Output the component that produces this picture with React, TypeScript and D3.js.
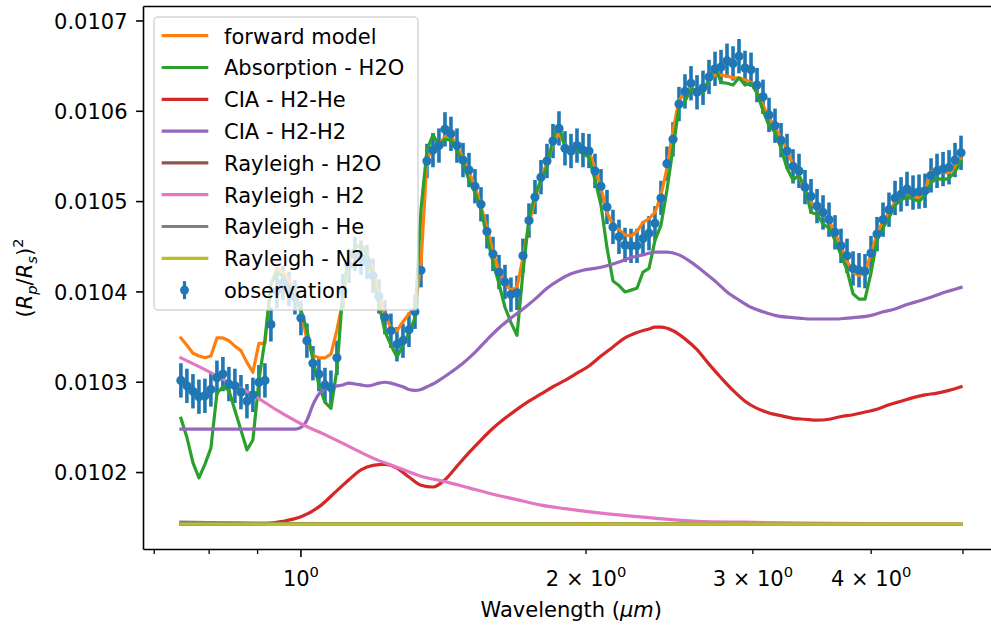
import React from "react";
import * as d3 from "d3";

// wavelength grid of the observed spectrum (micron)
const WAVELENGTH = [
  0.7469, 0.7579, 0.7691, 0.7804, 0.7918, 0.8034, 0.8153, 0.8272, 0.8394, 0.8517,
  0.8643, 0.877, 0.8898, 0.9029, 0.9162, 0.9296, 0.9433, 0.9572, 0.9712, 0.9855,
  1.0, 1.0147, 1.0296, 1.0447, 1.0601, 1.0757, 1.0915, 1.1075, 1.1238, 1.1403,
  1.1571, 1.1741, 1.1914, 1.2089, 1.2266, 1.2446, 1.2629, 1.2815, 1.3003, 1.3194,
  1.3388, 1.3585, 1.3785, 1.3987, 1.4193, 1.4401, 1.4613, 1.4828, 1.5046, 1.5267,
  1.5491, 1.5719, 1.595, 1.6184, 1.6422, 1.6663, 1.6908, 1.7157, 1.7409, 1.7665,
  1.7924, 1.8188, 1.8455, 1.8726, 1.9001, 1.9281, 1.9564, 1.9852, 2.0143, 2.0439,
  2.0739, 2.1044, 2.1353, 2.1667, 2.1986, 2.2309, 2.2637, 2.2969, 2.3307, 2.3649,
  2.3997, 2.4349, 2.4707, 2.507, 2.5438, 2.5812, 2.6192, 2.6577, 2.6967, 2.7364,
  2.7766, 2.8174, 2.8588, 2.9008, 2.9434, 2.9867, 3.0306, 3.0751, 3.1203, 3.1661,
  3.2127, 3.2599, 3.3078, 3.3564, 3.4057, 3.4557, 3.5065, 3.558, 3.6103, 3.6634,
  3.7172, 3.7718, 3.8272, 3.8835, 3.9405, 3.9984, 4.0572, 4.1168, 4.1773, 4.2387,
  4.301, 4.3642, 4.4283, 4.4934, 4.5594, 4.6264, 4.6944, 4.7634, 4.8334, 4.9044,
  4.9765,
];

// transit depth values in ppm of (Rp/Rs)^2
const OBSERVATION = [
  10302, 10296, 10290, 10284, 10285, 10292, 10305, 10309, 10298, 10296,
  10289, 10279, 10286, 10300, 10302, 10364, 10401, 10410, 10403, 10394,
  10371, 10346, 10321, 10309, 10297, 10294, 10327, 10401, 10429, 10442,
  10438, 10433, 10418, 10395, 10372, 10357, 10342, 10346, 10358, 10378,
  10424, 10545, 10557, 10562, 10580, 10575, 10562, 10546, 10535, 10517,
  10497, 10467, 10442, 10422, 10411, 10397, 10399, 10440, 10479, 10505,
  10527, 10545, 10567, 10581, 10559, 10556, 10562, 10557, 10556, 10534,
  10517, 10494, 10472, 10461, 10452, 10451, 10451, 10459, 10465, 10476,
  10504, 10542, 10569, 10608, 10622, 10631, 10621, 10626, 10638, 10647,
  10649, 10656, 10653, 10661, 10648, 10646, 10629, 10616, 10596, 10584,
  10568, 10556, 10539, 10534, 10516, 10506, 10495, 10488, 10480, 10466,
  10451, 10440, 10426, 10424, 10423, 10443, 10464, 10480, 10491, 10504,
  10508, 10514, 10510, 10511, 10512, 10529, 10534, 10536, 10538, 10546,
  10554,
];
const OBSERVATION_ERROR = 19;

const FORWARD_MODEL = [
  10349, 10341, 10332, 10329, 10327, 10329, 10349, 10349, 10346, 10340,
  10335, 10322, 10311, 10343, 10343, 10408, 10426, 10422, 10413, 10397,
  10378, 10347, 10330, 10327, 10327, 10331, 10358, 10391, 10433, 10449,
  10452, 10443, 10424, 10397, 10374, 10360, 10357, 10367, 10376, 10382,
  10430, 10548, 10557, 10563, 10572, 10573, 10562, 10548, 10533, 10517,
  10495, 10471, 10444, 10424, 10409, 10402, 10405, 10438, 10475, 10503,
  10524, 10544, 10563, 10576, 10563, 10557, 10559, 10559, 10556, 10537,
  10515, 10488, 10474, 10469, 10463, 10462, 10467, 10477, 10481, 10488,
  10507, 10537, 10579, 10612, 10621, 10627, 10621, 10621, 10635, 10640,
  10640, 10639, 10637, 10637, 10635, 10632, 10621, 10607, 10593, 10583,
  10570, 10557, 10541, 10528, 10513, 10498, 10493, 10485, 10479, 10465,
  10451, 10434, 10422, 10418, 10421, 10442, 10464, 10479, 10488, 10500,
  10504, 10506, 10506, 10504, 10513, 10533, 10535, 10532, 10532, 10538,
  10548,
];

const ABSORPTION_H2O = [
  10260, 10239, 10211, 10194, 10209, 10227, 10288, 10295, 10291, 10269,
  10247, 10225, 10236, 10302, 10347, 10408, 10422, 10417, 10405, 10393,
  10380, 10358, 10325, 10297, 10278, 10271, 10314, 10402, 10438, 10449,
  10452, 10441, 10415, 10386, 10356, 10341, 10328, 10341, 10355, 10371,
  10491, 10557, 10574, 10562, 10569, 10568, 10557, 10543, 10524, 10510,
  10491, 10461, 10433, 10409, 10383, 10366, 10352, 10422, 10482, 10507,
  10524, 10538, 10570, 10585, 10560, 10559, 10557, 10553, 10549, 10524,
  10496, 10449, 10412, 10407, 10400, 10402, 10404, 10422, 10426, 10457,
  10474, 10513, 10559, 10604, 10611, 10624, 10624, 10620, 10636, 10649,
  10632, 10631, 10629, 10637, 10629, 10631, 10620, 10601, 10584, 10577,
  10559, 10537, 10524, 10529, 10515, 10488, 10486, 10475, 10471, 10457,
  10441, 10424, 10398, 10392, 10392, 10421, 10457, 10471, 10482, 10496,
  10502, 10505, 10503, 10500, 10507, 10521, 10526, 10524, 10526, 10533,
  10544,
];

const CIA_H2_HE_WAVELENGTH = [
  0.7469, 0.8643, 0.9162, 0.9572, 1.0, 1.0447, 1.0915, 1.1238, 1.1571, 1.1914,
  1.2266, 1.2629, 1.3003, 1.3388, 1.3785, 1.4193, 1.4613, 1.5046, 1.5491, 1.595,
  1.6422, 1.6908, 1.7409, 1.7924, 1.8455, 1.9001, 1.9564, 2.0143, 2.0739, 2.1353,
  2.1986, 2.2637, 2.3307, 2.3649, 2.3997, 2.4707, 2.5438, 2.6192, 2.6967, 2.7766,
  2.8588, 2.9434, 3.0306, 3.1203, 3.2127, 3.3078, 3.4057, 3.5065, 3.6103, 3.7172,
  3.8272, 3.9405, 4.0572, 4.1773, 4.301, 4.4283, 4.5594, 4.6944, 4.8334, 4.9765,
];
const CIA_H2_HE = [
  10143, 10143, 10143.5, 10146, 10151, 10162, 10180, 10192, 10203, 10208,
  10209, 10205, 10195, 10186, 10184, 10192, 10207, 10222, 10236, 10249,
  10260, 10270, 10279, 10287, 10295, 10302, 10310, 10318, 10329, 10339,
  10349, 10355, 10359, 10361, 10361, 10357, 10348, 10336, 10320, 10305,
  10291, 10279, 10271, 10266, 10263, 10260, 10259, 10258, 10259, 10262,
  10264, 10267, 10270, 10275, 10279, 10283, 10286, 10288, 10291, 10295,
];

const CIA_H2_H2_WAVELENGTH = [
  0.7469, 0.8643, 0.9855, 1.0, 1.0147, 1.0296, 1.0447, 1.0601, 1.0757, 1.0915,
  1.1075, 1.1238, 1.1403, 1.1571, 1.1741, 1.1914, 1.2089, 1.2266, 1.2446, 1.2629,
  1.2815, 1.3003, 1.3194, 1.3388, 1.3585, 1.3785, 1.3987, 1.4401, 1.4828, 1.5267,
  1.5719, 1.6184, 1.6663, 1.7157, 1.7665, 1.8188, 1.8726, 1.9281, 1.9852, 2.0439,
  2.1044, 2.1667, 2.2309, 2.2969, 2.3649, 2.3997, 2.4349, 2.507, 2.5812, 2.6577,
  2.7364, 2.8174, 2.9008, 2.9867, 3.0751, 3.1661, 3.2599, 3.3564, 3.4557, 3.558,
  3.6634, 3.7718, 3.8835, 3.9984, 4.1168, 4.2387, 4.3642, 4.4934, 4.6264, 4.7634,
  4.9044, 4.9765,
];
const CIA_H2_H2 = [
  10248, 10248, 10248, 10250, 10258, 10275, 10287, 10292, 10295, 10296,
  10297, 10299, 10298, 10297, 10296, 10297, 10299, 10300, 10299, 10297,
  10295, 10292, 10291, 10292, 10295, 10298, 10302, 10311, 10321, 10333,
  10347, 10360, 10371, 10381, 10392, 10404, 10413, 10420, 10424, 10426,
  10429, 10433, 10438, 10441, 10444, 10444, 10444, 10441, 10433, 10423,
  10412, 10400, 10391, 10383, 10378, 10374, 10372, 10371, 10370, 10370,
  10370, 10371, 10372, 10374, 10378, 10381, 10386, 10390, 10394, 10399,
  10403, 10405,
];

const RAYLEIGH_H2O_WAVELENGTH = [0.7469, 4.9765];
const RAYLEIGH_H2O = [10143.2, 10143];

const RAYLEIGH_H2_WAVELENGTH = [
  0.7469, 0.7918, 0.8394, 0.8898, 0.9433, 1.0, 1.0601, 1.1238, 1.1914, 1.2629,
  1.3388, 1.4193, 1.5046, 1.595, 1.6908, 1.7924, 1.9001, 2.0739, 2.3307, 2.6192,
  2.9434, 3.4057, 4.0572, 4.9765,
];
const RAYLEIGH_H2 = [
  10327, 10314, 10300, 10286, 10269, 10254, 10242, 10229, 10216, 10206,
  10196, 10190, 10183, 10176, 10170, 10164, 10160, 10155, 10150, 10146,
  10145, 10144, 10143.4, 10143,
];

const RAYLEIGH_HE_WAVELENGTH = [0.7469, 0.8643, 1.0, 1.3388, 4.9765];
const RAYLEIGH_HE = [10145, 10144.2, 10143.5, 10143.1, 10143];

const RAYLEIGH_N2_WAVELENGTH = [0.7469, 4.9765];
const RAYLEIGH_N2 = [10143, 10143];

const Y_TICKS = [10200, 10300, 10400, 10500, 10600, 10700];
const X_MAJOR_TICKS = [1];
const X_MINOR_TICKS = [0.7, 0.8, 0.9, 2, 3, 4, 5];
const X_TICK_LABELS = [
  { value: 1, mantissa: "" },
  { value: 2, mantissa: "2 × " },
  { value: 3, mantissa: "3 × " },
  { value: 4, mantissa: "4 × " },
];

const SERIES = [
  { label: "forward model", color: "#ff7f0e", wl: WAVELENGTH, val: FORWARD_MODEL, smooth: false },
  { label: "Absorption - H2O", color: "#2ca02c", wl: WAVELENGTH, val: ABSORPTION_H2O, smooth: false },
  { label: "CIA - H2-He", color: "#d62728", wl: CIA_H2_HE_WAVELENGTH, val: CIA_H2_HE, smooth: true },
  { label: "CIA - H2-H2", color: "#9467bd", wl: CIA_H2_H2_WAVELENGTH, val: CIA_H2_H2, smooth: true },
  { label: "Rayleigh - H2O", color: "#8c564b", wl: RAYLEIGH_H2O_WAVELENGTH, val: RAYLEIGH_H2O, smooth: true },
  { label: "Rayleigh - H2", color: "#e377c2", wl: RAYLEIGH_H2_WAVELENGTH, val: RAYLEIGH_H2, smooth: true },
  { label: "Rayleigh - He", color: "#7f7f7f", wl: RAYLEIGH_HE_WAVELENGTH, val: RAYLEIGH_HE, smooth: true },
  { label: "Rayleigh - N2", color: "#bcbd22", wl: RAYLEIGH_N2_WAVELENGTH, val: RAYLEIGH_N2, smooth: true },
];
const OBS_LABEL = "observation";
const OBS_COLOR = "#1f77b4";

const W = 991;
const H = 630;
const LEFT = 143.5;
const RIGHT = 1000;
const TOP = 6.5;
const BOTTOM = 549.5;
const FONT = "'DejaVu Sans', 'Noto Sans', sans-serif";
const FS = 21;
const LW = 3.2;

export default function App() {
  const x = d3.scaleLog().domain([0.682, 5.471]).range([LEFT, RIGHT]);
  const y = d3.scaleLinear().domain([10114.8, 10716.0]).range([BOTTOM, TOP]);

  const mkLine = (smooth: boolean) =>
    d3
      .line<[number, number]>()
      .x((d) => x(d[0]))
      .y((d) => y(d[1]))
      .curve(smooth ? d3.curveMonotoneX : d3.curveLinear);

  const obs = WAVELENGTH.map((w, i) => [w, OBSERVATION[i]] as [number, number]);

  const legendTop = 17;
  const legendRow0 = 35.7;
  const legendStep = 31.8;
  const legendItems = [...SERIES.map((s) => s.label), OBS_LABEL];

  return (
    <svg
      width={W}
      height={H}
      style={{ position: "absolute", left: 0, top: 0, background: "#fff" }}
      fontFamily={FONT}
    >
      <rect x={0} y={0} width={W} height={H} fill="#fff" />
      {/* error bars */}
      <g stroke={OBS_COLOR} strokeWidth={3.6}>
        {obs.map((d, i) => (
          <line
            key={i}
            x1={x(d[0])}
            x2={x(d[0])}
            y1={y(d[1] - OBSERVATION_ERROR)}
            y2={y(d[1] + OBSERVATION_ERROR)}
          />
        ))}
      </g>
      {/* model lines */}
      {SERIES.map((s) => (
        <path
          key={s.label}
          d={mkLine(s.smooth)(s.wl.map((w, i) => [w, s.val[i]] as [number, number])) || ""}
          fill="none"
          stroke={s.color}
          strokeWidth={LW}
          strokeLinejoin="round"
          strokeLinecap="square"
        />
      ))}
      {/* observation markers */}
      <g fill={OBS_COLOR}>
        {obs.map((d, i) => (
          <circle key={i} cx={x(d[0])} cy={y(d[1])} r={4.6} />
        ))}
      </g>

      {/* legend */}
      <g>
        <rect
          x={154}
          y={legendTop}
          width={264}
          height={293}
          rx={4}
          fill="#fff"
          fillOpacity={0.8}
          stroke="#cccccc"
          strokeOpacity={0.8}
          strokeWidth={1.5}
        />
        {legendItems.map((lab, i) => {
          const cy = legendRow0 + legendStep * i;
          const s = SERIES[i];
          return (
            <g key={lab}>
              {s ? (
                <line x1={161.7} x2={208.3} y1={cy} y2={cy} stroke={s.color} strokeWidth={LW} />
              ) : (
                <g>
                  <line x1={184.5} x2={184.5} y1={cy - 9} y2={cy + 9} stroke={OBS_COLOR} strokeWidth={LW} />
                  <circle cx={184.5} cy={cy} r={4.5} fill={OBS_COLOR} />
                </g>
              )}
              <text x={224} y={cy + 7.8} fontSize={FS} fill="#000">
                {lab}
              </text>
            </g>
          );
        })}
      </g>

      {/* spines */}
      <g stroke="#000" strokeWidth={1.6} fill="none">
        <line x1={LEFT} x2={LEFT} y1={TOP} y2={BOTTOM} />
        <line x1={LEFT} x2={RIGHT} y1={BOTTOM} y2={BOTTOM} />
        <line x1={LEFT} x2={RIGHT} y1={TOP} y2={TOP} />
        <line x1={RIGHT} x2={RIGHT} y1={TOP} y2={BOTTOM} />
      </g>

      {/* y axis */}
      {Y_TICKS.map((t) => (
        <g key={t}>
          <line x1={LEFT - 7.4} x2={LEFT} y1={y(t)} y2={y(t)} stroke="#000" strokeWidth={1.6} />
          <text x={127.5} y={y(t) + 7.6} fontSize={FS} textAnchor="end" fill="#000">
            {(t / 1e6).toFixed(4)}
          </text>
        </g>
      ))}

      {/* x axis */}
      {X_MAJOR_TICKS.map((t) => (
        <line key={"M" + t} x1={x(t)} x2={x(t)} y1={BOTTOM} y2={BOTTOM + 7.4} stroke="#000" strokeWidth={1.6} />
      ))}
      {X_MINOR_TICKS.map((t) => (
        <line key={"m" + t} x1={x(t)} x2={x(t)} y1={BOTTOM} y2={BOTTOM + 4.5} stroke="#000" strokeWidth={1.3} />
      ))}
      {X_TICK_LABELS.map((l) => (
        <text key={l.value} x={x(l.value)} y={585.5} fontSize={FS} textAnchor="middle" fill="#000">
          {l.mantissa}10
          <tspan fontSize={FS * 0.7} dy={-8.3}>
            0
          </tspan>
        </text>
      ))}
      <text x={(LEFT + RIGHT) / 2 - 0.5} y={617} fontSize={FS} textAnchor="middle" fill="#000">
        Wavelength (<tspan fontStyle="italic">μm</tspan>)
      </text>

      {/* y label */}
      <text transform={`translate(32, ${(TOP + BOTTOM) / 2}) rotate(-90)`} fontSize={FS} textAnchor="middle" fill="#000">
        (<tspan fontStyle="italic">R</tspan>
        <tspan fontStyle="italic" fontSize={FS * 0.7} dy={4.5}>
          p
        </tspan>
        <tspan dy={-4.5}>/</tspan>
        <tspan fontStyle="italic">R</tspan>
        <tspan fontStyle="italic" fontSize={FS * 0.7} dy={4.5}>
          s
        </tspan>
        <tspan dy={-4.5}>)</tspan>
        <tspan fontSize={FS * 0.7} dy={-9}>
          2
        </tspan>
      </text>
    </svg>
  );
}
